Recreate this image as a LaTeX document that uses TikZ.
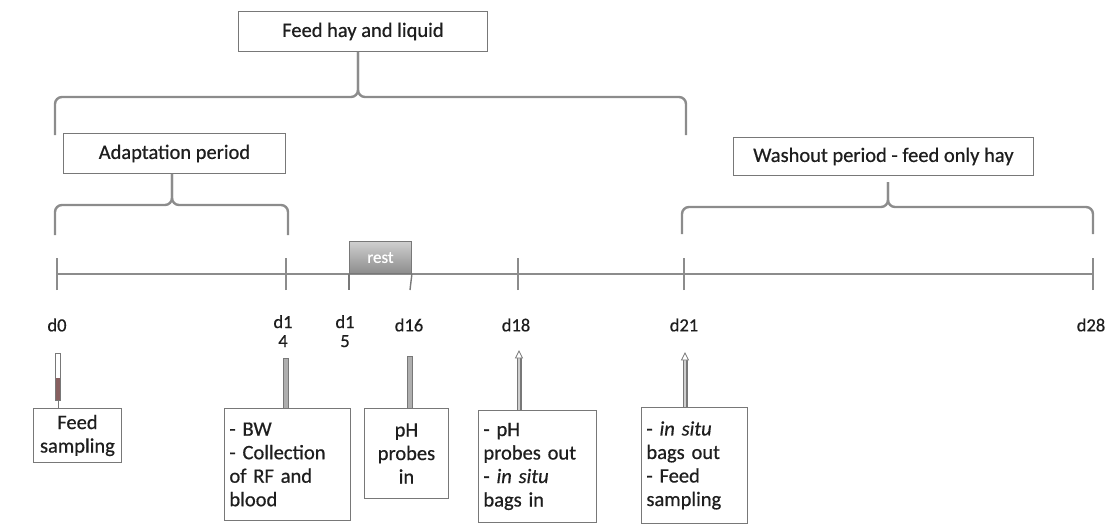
\documentclass[tikz,border=0pt]{standalone}
\usepackage{fontspec}
\setmainfont{Carlito}[FakeBold=0.6,AutoFakeSlant=0.2]
\newfontfamily\heavy{Carlito}[FakeBold=0.6]
\definecolor{linegray}{RGB}{140,140,140}
\definecolor{boxgray}{RGB}{120,120,120}
\definecolor{txt}{RGB}{30,30,30}
\definecolor{barfill}{RGB}{175,175,175}
\definecolor{barred}{RGB}{135,95,95}
\definecolor{restfill}{RGB}{175,175,175}
\begin{document}
\begin{tikzpicture}[x=1pt,y=-1pt,
  brace/.style={draw=linegray, line width=2.4pt, rounded corners=7pt},
  tline/.style={draw=linegray, line width=2.4pt},
  tick/.style={draw=linegray, line width=2.4pt},
  pbox/.style={draw=boxgray, line width=0.9pt, fill=white, text=txt, font=\heavy\fontsize{20.5}{23}\selectfont, inner sep=0pt, anchor=north west},
  ebox/.style={draw=boxgray, line width=0.9pt, fill=white, text=txt, font=\heavy\fontsize{20.5}{23.5}\selectfont, inner sep=5pt, anchor=north west},
  dlabel/.style={text=txt, font=\heavy\fontsize{18.5}{19}\selectfont, align=center, inner sep=0pt},
  barout/.style={draw=boxgray, line width=6pt},
  barin/.style={draw=barfill, line width=3.6pt}
]
\useasboundingbox (0,0) rectangle (1109,525);

% ---------- period boxes ----------
\node[pbox, minimum width=249pt, minimum height=40pt] (feed) at (238,11) {Feed hay and liquid};
\node[pbox, minimum width=222pt, minimum height=40pt] (adapt) at (63,133) {Adaptation period};
\node[pbox, minimum width=300pt, minimum height=38pt] (wash) at (733,137) {Washout period - feed only hay};

% ---------- braces ----------
\coordinate (bigL) at (55,135);
\coordinate (bigR) at (686,135);
\coordinate (bigM) at (358,97);
\draw[brace] (bigL) -- (55,97) -- (bigM) -- (feed.south -| bigM);
\draw[brace] (bigR) -- (686,97) -- (bigM) -- (feed.south -| bigM);

\coordinate (adL) at (55,235);
\coordinate (adR) at (288,235);
\coordinate (adM) at (172,205);
\draw[brace] (adL) -- (55,205) -- (adM) -- (adapt.south -| adM);
\draw[brace] (adR) -- (288,205) -- (adM) -- (adapt.south -| adM);

\coordinate (waL) at (682,234);
\coordinate (waR) at (1093,234);
\coordinate (waM) at (888,207);
\coordinate (waTop) at (888,182);
\draw[brace] (waL) -- (682,207) -- (waM) -- (waTop);
\draw[brace] (waR) -- (1093,207) -- (waM) -- (waTop);

% ---------- timeline ----------
\coordinate (t0) at (57,274);
\coordinate (t14) at (286,274);
\coordinate (t15) at (349,274);
\coordinate (t16) at (410,274);
\coordinate (t18) at (518,274);
\coordinate (t21) at (684,274);
\coordinate (t28) at (1093,274);
\draw[tline] (t0) -- (t28);
\foreach \t in {t0,t14,t18,t21,t28}{
  \draw[tick] ([yshift=-16pt]\t) -- ([yshift=16pt]\t);
}
\node[draw=boxgray, line width=0.9pt, top color=restfill!60, bottom color=restfill!80!black, text=white,
      minimum width=62pt, minimum height=32pt, inner sep=0pt,
      font=\fontsize{17}{18}\selectfont, anchor=south west] (rest) at (t15) {rest};
\draw[draw=boxgray, line width=1.4pt] (rest.south west) -- ([yshift=-16pt]t15);
\draw[draw=boxgray, line width=1.4pt] (rest.south east) -- ([yshift=-16pt]t16);

% ---------- day labels ----------
\node[dlabel] (l0) at (57,325) {d0};
\node[dlabel, anchor=north] (l14) at (283,315) {d1\\4};
\node[dlabel, anchor=north] (l15) at (345,315) {d1\\5};
\node[dlabel] (l16) at (409,325) {d16};
\node[dlabel] (l18) at (516,325) {d18};
\node[dlabel] (l21) at (684,325) {d21};
\node[dlabel] (l28) at (1091,325) {d28};

% ---------- event boxes ----------
\node[ebox, minimum width=88pt, minimum height=54pt, align=center, text width=78pt] (e0) at (33,408) {Feed\\sampling};
\node[ebox, minimum width=126pt, minimum height=112pt, align=left, text width=116pt] (e14) at (224,408) {- BW\\- Collection\\of RF and\\blood};
\node[ebox, minimum width=84pt, minimum height=90pt, align=center, text width=74pt] (e16) at (364,408) {pH\\probes\\in};
\node[ebox, minimum width=118pt, minimum height=112pt, align=left, text width=108pt] (e18) at (478,410) {- pH\\probes out\\- {\itshape in situ}\\bags in};
\node[ebox, minimum width=106pt, minimum height=116pt, align=left, text width=96pt] (e21) at (641,407) {- {\itshape in situ}\\bags out\\- Feed\\sampling};

% ---------- bars ----------
\coordinate (b0) at (58,353);
\coordinate (b14) at (286,358);
\coordinate (b16) at (410,356);
\coordinate (b18) at (519,358);
\coordinate (b21) at (685,360);
\draw[draw=boxgray, line width=6pt] (b0) -- (58,401);
\draw[draw=white, line width=3.6pt] ([yshift=-1pt]b0) -- (58,378);
\draw[draw=barred, line width=3.6pt] (58,378) -- (58,400);
\draw[draw=boxgray, line width=0.9pt] (58,401) -- (b0 |- e0.north);
\foreach \b/\e in {b14/e14,b16/e16}{
  \draw[barout] (\b) -- (\b |- \e.north);
  \draw[barin] ([yshift=-1pt]\b) -- (\b |- \e.north);
}
\foreach \b/\e in {b18/e18,b21/e21}{
  \draw[draw=boxgray, line width=5pt] (\b) -- (\b |- \e.north);
  \draw[draw=barfill!60, line width=2.6pt] (\b) -- (\b |- \e.north);
  \draw[draw=boxgray, line width=0.8pt, fill=white] ([yshift=7pt]\b) -- ([xshift=-3.5pt]\b) -- ([xshift=3.5pt]\b) -- cycle;
}
\end{tikzpicture}
\end{document}
